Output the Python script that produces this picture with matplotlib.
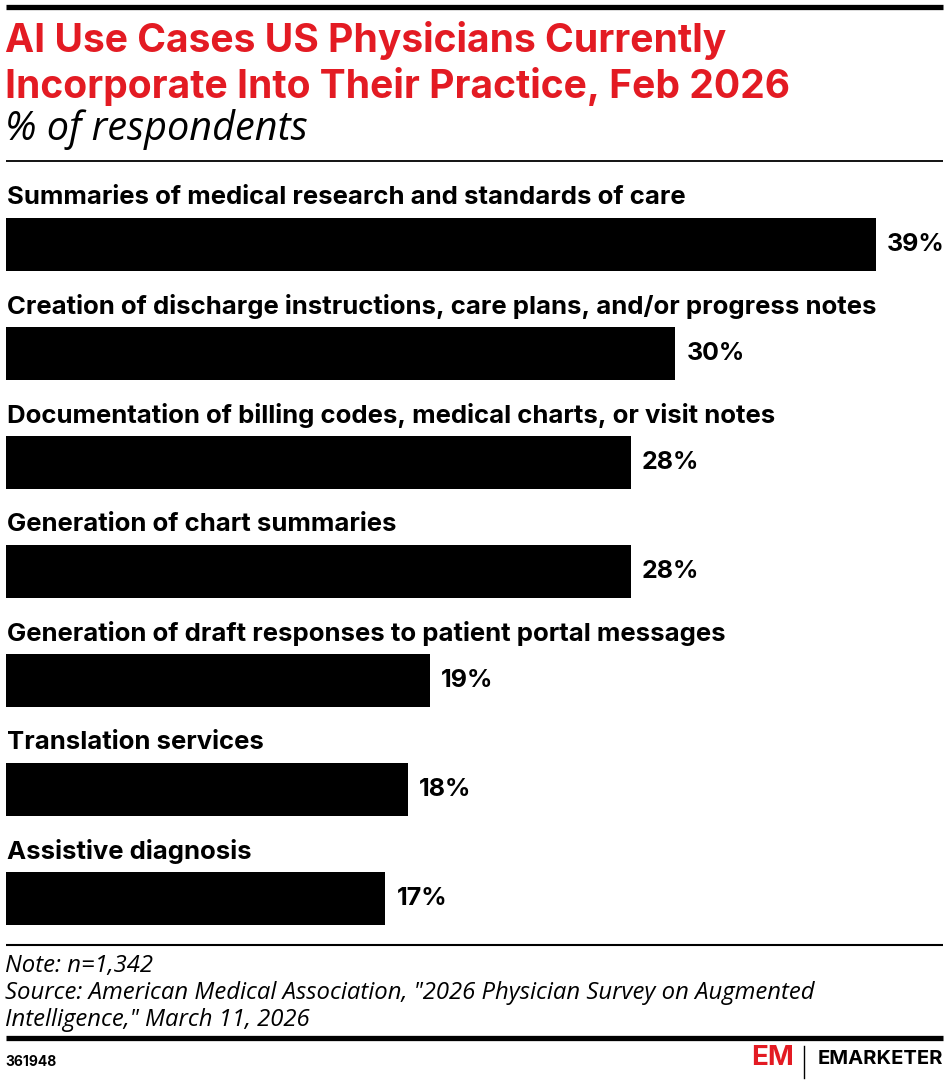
import matplotlib.pyplot as plt
from matplotlib.lines import Line2D

categories = [
    "Summaries of medical research and standards of care",
    "Creation of discharge instructions, care plans, and/or progress notes",
    "Documentation of billing codes, medical charts, or visit notes",
    "Generation of chart summaries",
    "Generation of draft responses to patient portal messages",
    "Translation services",
    "Assistive diagnosis",
]
values = [39, 30, 28, 28, 19, 18, 17]

title_lines = ["AI Use Cases US Physicians Currently",
               "Incorporate Into Their Practice, Feb 2026"]
subtitle = "% of respondents"
footer_lines = ["Note: n=1,342",
                "Source: American Medical Association, \"2026 Physician Survey on Augmented",
                "Intelligence,\" March 11, 2026"]
chart_id = "361948"

W, H = 948, 1084
red = "#e31b23"
plt.rcParams['font.family'] = ['Inter', 'DejaVu Sans']

fig = plt.figure(figsize=(W / 100, H / 100), dpi=100)


def fx(px):
    return px / W


def fy(py):
    return 1 - py / H


def hline(py, lw, x0=6, x1=943):
    fig.add_artist(Line2D([fx(x0), fx(x1)], [fy(py), fy(py)], color="black",
                          lw=lw, solid_capstyle="butt"))


# rules
hline(6.5, 3.8)
hline(161, 1.3)
hline(945, 1.5)
hline(1037.5, 3.8)

# header
for line, base in zip(title_lines, [52, 98]):
    fig.text(fx(5), fy(base), line, color=red, fontsize=28.1,
             fontweight="bold", va="baseline")
fig.text(fx(5), fy(140), subtitle, fontsize=28.5, fontstyle="italic",
         family=['Open Sans', 'DejaVu Sans'], va="baseline")

# bars
top, step = 190, 109
n = len(categories)
ax = fig.add_axes([fx(6), fy(top + n * step), fx(936), n * step / H])
xmax = 39 * 936 / 870
ax.barh(range(n), values, height=0.49, color="black")
ax.set_xlim(0, xmax)
ax.set_ylim(n - 0.5, -0.5)
ax.axis("off")
for i, (c, v) in enumerate(zip(categories, values)):
    ax.text(0.05, i - 0.43, c, fontsize=18.5, fontweight="bold", va="center",
            ha="left")
    ax.text(v + 0.5, i, f"{v}%", fontsize=18, fontweight="bold", va="center",
            ha="left")

# footer
for line, base in zip(footer_lines, [972, 999, 1026]):
    fig.text(fx(5), fy(base), line, fontsize=17.2, fontstyle="italic",
             family=['Open Sans', 'DejaVu Sans'], va="baseline")
fig.text(fx(5), fy(1066), chart_id, fontsize=10, fontweight="bold",
         va="baseline")

# logo
fig.text(fx(751), fy(1065), "EM", color=red, fontsize=20, fontweight="bold",
         va="baseline")
fig.add_artist(Line2D([fx(804), fx(804)], [fy(1046), fy(1078)], color="black",
                      lw=1))
fig.text(fx(943), fy(1064), "EMARKETER", fontsize=14.5, fontweight="bold",
         va="baseline", ha="right")

fig.savefig("out.png", dpi=100)
